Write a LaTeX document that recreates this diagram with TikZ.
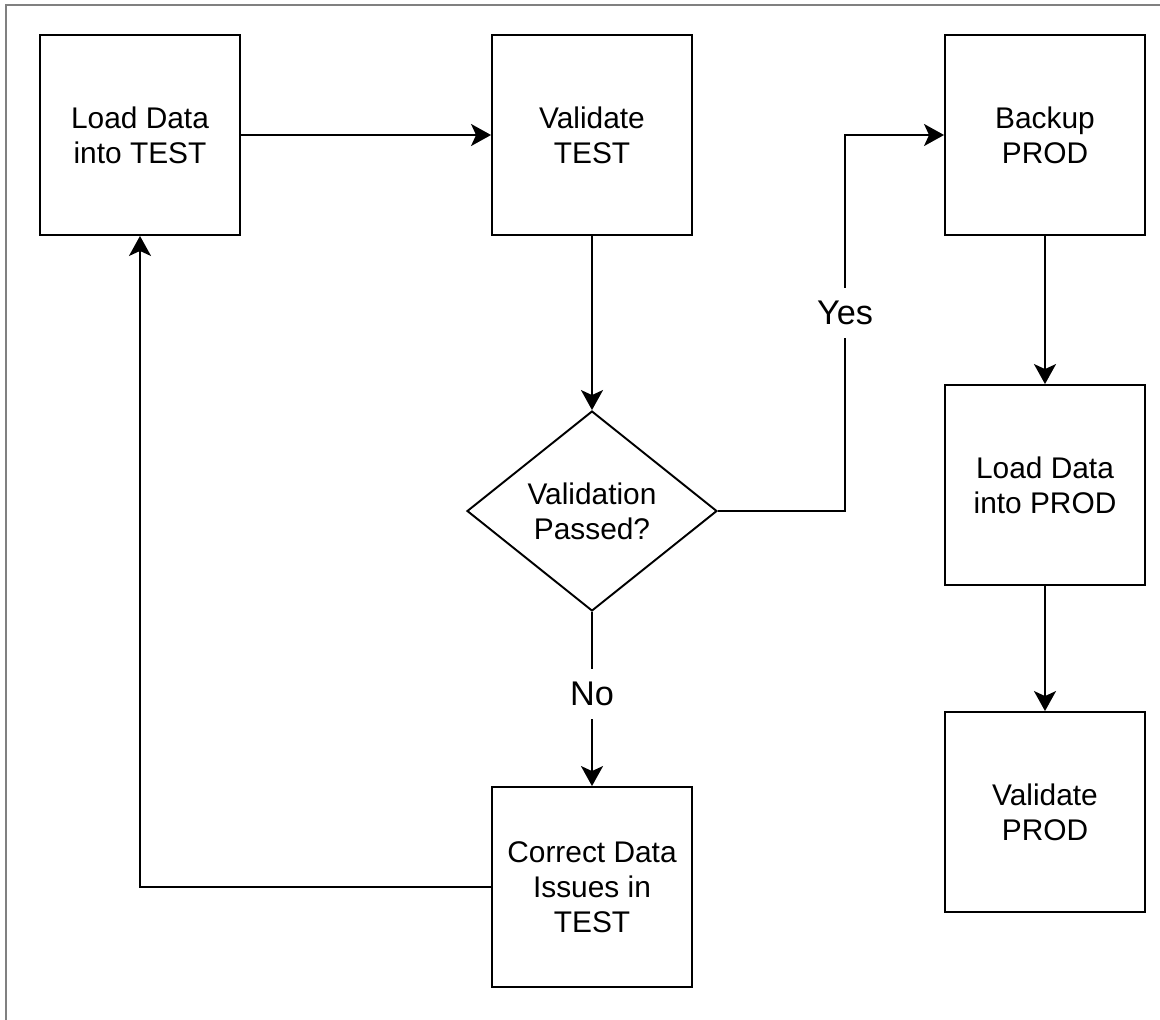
\documentclass[tikz,border=0pt]{standalone}
\usepackage{fontspec}
\setmainfont{Liberation Sans}
\usetikzlibrary{shapes.geometric}
\usetikzlibrary{arrows.meta}
\newcommand{\flwcla}{140}
\newcommand{\flwclb}{592}
\newcommand{\flwclc}{1045}
\newcommand{\flwrwa}{135}
\newcommand{\flwrwb}{485}
\newcommand{\flwrwc}{812}
\newcommand{\flwrwd}{887}
\newcommand{\flwchky}{511}
\newcommand{\flwyesx}{845}

\begin{document}
\begin{tikzpicture}[x=0.02cm,y=-0.02cm,
    font=\fontsize{17}{20}\selectfont,
    stepbox/.style={draw,line width=1.1pt,minimum width=4cm,
      minimum height=4cm,align=center,inner sep=0pt},
    checkbox/.style={draw,diamond,line width=1.1pt,aspect=1.25,
      minimum width=5cm,minimum height=4cm,align=center,inner sep=0pt},
    flow/.style={line width=1.1pt,
      -{Stealth[length=0.4cm,width=0.44cm,inset=0.1cm]}},
    answer/.style={fill=white,inner xsep=4pt,inner ysep=7.5pt,
      font=\fontsize{19.5}{22}\selectfont}]
    \useasboundingbox (0,0) rectangle (1160,1019);
    \begin{scope}
      \clip (0,0) rectangle (1160,1019);
      \draw[line width=1.1pt,gray] (6,5) rectangle (1180,1040);
    \end{scope}

    \node[stepbox] (ldtest) at (\flwcla,\flwrwa) {Load Data\\into TEST};
    \node[stepbox] (vltest) at (\flwclb,\flwrwa) {Validate\\TEST};
    \node[checkbox] (passed) at (\flwclb,\flwchky) {Validation\\Passed?};
    \node[stepbox] (fixtest) at (\flwclb,\flwrwd)
      {Correct Data\\Issues in\\TEST};
    \node[stepbox] (bkprod) at (\flwclc,\flwrwa) {Backup\\PROD};
    \node[stepbox] (ldprod) at (\flwclc,\flwrwb) {Load Data\\into PROD};
    \node[stepbox] (vlprod) at (\flwclc,\flwrwc) {Validate\\PROD};
    \coordinate (yesturn) at (\flwyesx,\flwchky);

    \draw[flow] (ldtest) -- (vltest);
    \draw[flow] (vltest) -- (passed);
    \draw[flow] (passed.east) -- (yesturn)
      |- node[answer,pos=0.263] (yes) {Yes} (bkprod.west);
    \draw[flow] (passed) -- node[answer,pos=0.47] (no) {No} (fixtest);
    \draw[flow] (fixtest.west) -| (ldtest.south);
    \draw[flow] (bkprod) -- (ldprod);
    \draw[flow] (ldprod) -- (vlprod);
  \end{tikzpicture}
\end{document}
